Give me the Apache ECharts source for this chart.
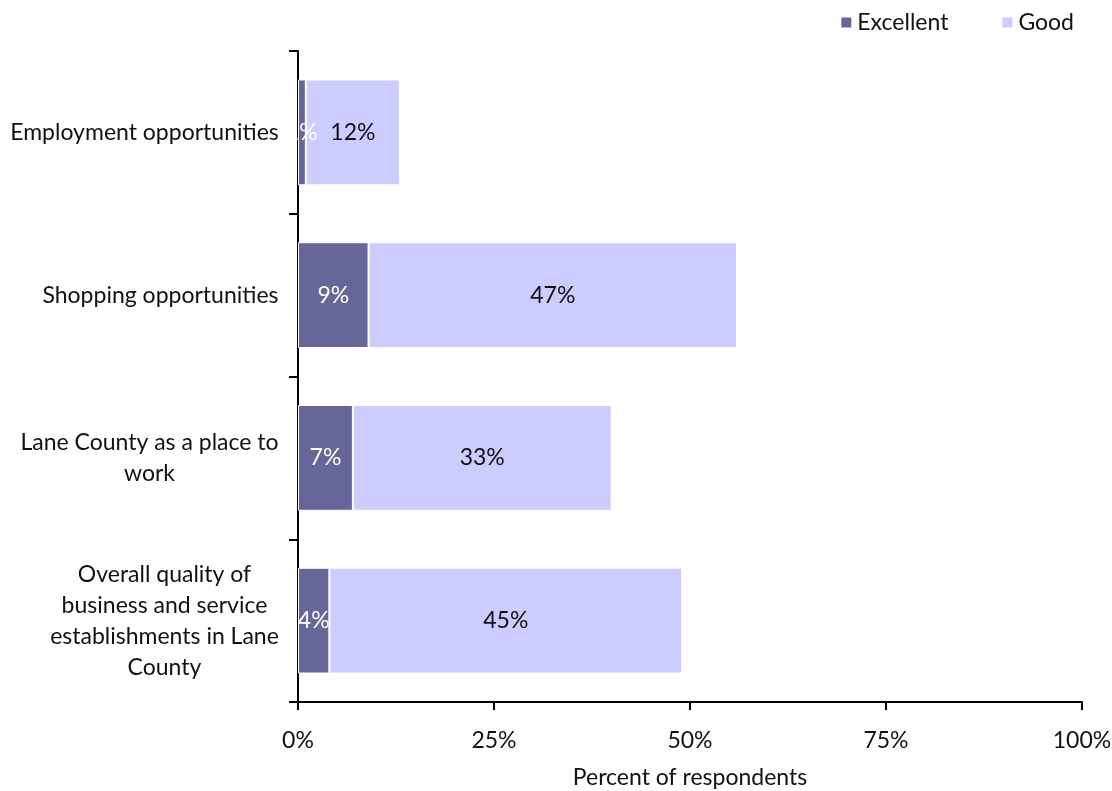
<!DOCTYPE html>
<html>
<head>
<meta charset="utf-8">
<script src="https://cdn.jsdelivr.net/npm/echarts@6/dist/echarts.min.js"></script>
<style>
  html, body { margin: 0; padding: 0; background: #fff; }
  #chart { width: 1112px; height: 791px; }
</style>
</head>
<body>
<div id="chart"></div>
<script>
// Survey ratings: share of respondents answering Excellent / Good
const categories = [
  'Employment opportunities',
  'Shopping opportunities',
  'Lane County as a place to\nwork',
  'Overall quality of\nbusiness and service\nestablishments in Lane\nCounty'
];
const excellent = [1, 9, 7, 4];
const good = [12, 47, 33, 45];
const xTicks = [0, 25, 50, 75, 100];

const FONT = 'Lato, "Open Sans", sans-serif';
const FONT_SIZE = 23;

// Each multi-line label is a block whose lines are centred within it,
// the whole block right-aligned against the axis.
const measureCtx = document.createElement('canvas').getContext('2d');
measureCtx.font = FONT_SIZE + 'px ' + FONT;
const rich = {};
categories.forEach((c, i) => {
  const w = Math.max(...c.split('\n').map(l => measureCtx.measureText(l).width));
  rich['c' + i] = { width: Math.ceil(w) + 2, align: 'center', fontSize: FONT_SIZE, fontFamily: FONT, color: '#111', lineHeight: 31 };
});

const chart = echarts.init(document.getElementById('chart'));
chart.setOption({
  animation: false,
  textStyle: { fontFamily: FONT },
  legend: {
    right: 33,
    top: 6,
    itemWidth: 12,
    itemHeight: 12,
    itemGap: 52,
    icon: 'rect',
    textStyle: { fontSize: FONT_SIZE, color: '#111', fontFamily: FONT },
    data: ['Excellent', 'Good']
  },
  grid: { left: 298, right: 30, top: 51, bottom: 89, containLabel: false, outerBoundsMode: 'none' },
  xAxis: {
    type: 'value',
    min: 0,
    max: 100,
    interval: 25,
    axisLine: { show: true, lineStyle: { color: '#000', width: 2 } },
    axisTick: { show: true, length: 8, lineStyle: { color: '#000', width: 2 } },
    splitLine: { show: false },
    axisLabel: {
      margin: 27,
      fontSize: FONT_SIZE,
      color: '#111',
      fontFamily: FONT,
      formatter: v => (xTicks.includes(v) ? v + '%' : '')
    },
    name: 'Percent of respondents',
    nameLocation: 'middle',
    nameGap: 64,
    nameTextStyle: { fontSize: FONT_SIZE, color: '#111', fontFamily: FONT }
  },
  yAxis: {
    type: 'category',
    inverse: true,
    data: categories,
    axisLine: { show: true, lineStyle: { color: '#000', width: 2 } },
    axisTick: { show: true, length: 9, inside: false, alignWithLabel: false, lineStyle: { color: '#000', width: 2 } },
    axisLabel: {
      margin: 18,
      align: 'right',
      formatter: (v, i) => v.split('\n').map(l => '{c' + i + '|' + l + '}').join('\n'),
      rich: rich
    }
  },
  series: [
    {
      name: 'Excellent',
      type: 'bar',
      stack: 'total',
      barCategoryGap: '35%',
      data: excellent,
      itemStyle: { color: '#666699', borderColor: '#fff', borderWidth: 1 },
      label: {
        show: true,
        position: 'inside',
        formatter: '{c}%',
        color: '#fff',
        fontSize: FONT_SIZE,
        fontFamily: FONT
      }
    },
    {
      name: 'Good',
      type: 'bar',
      stack: 'total',
      data: good,
      itemStyle: { color: '#ccccff', borderColor: '#fff', borderWidth: 1 },
      label: {
        show: true,
        position: 'inside',
        formatter: '{c}%',
        color: '#111',
        fontSize: FONT_SIZE,
        fontFamily: FONT
      }
    }
  ]
});
</script>
</body>
</html>
